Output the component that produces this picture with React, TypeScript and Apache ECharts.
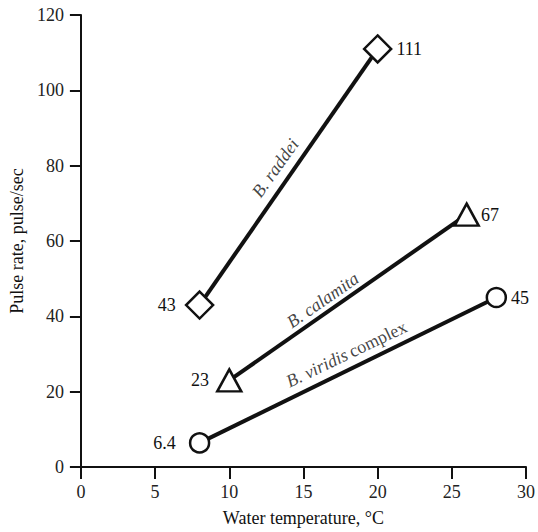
import React, { useEffect, useRef } from "react";
import * as echarts from "echarts";

const xTicks = [0, 5, 10, 15, 20, 25, 30];
const yTicks = [0, 20, 40, 60, 80, 100, 120];

const raddeiTemp = [8, 20];
const raddeiRate = [43, 111];
const calamitaTemp = [10, 26];
const calamitaRate = [23, 67];
const viridisTemp = [8, 28];
const viridisRate = [6.4, 45];
const pointLabels = {
  raddei: ["43", "111"],
  calamita: ["23", "67"],
  viridis: ["6.4", "45"],
};

// species name anchors (data coordinates) and rotation along each line
const speciesNames = ["B. raddei", "B. calamita", "B. viridis complex"];
const nameX = [13.1, 16.3, 17.9];
const nameY = [79.4, 44.3, 30.0];
const nameRotate = [54.4, 34.7, 25.6];

const FONT = "'Liberation Serif', 'Times New Roman', serif";
const INK = "#111";
const FS = 18;

export default function App() {
  const ref = useRef<HTMLDivElement>(null);
  useEffect(() => {
    if (!ref.current) return;
    const chart = echarts.init(ref.current, null, { renderer: "svg" });

    const mkLine = (
      name: string,
      xs: number[],
      ys: number[],
      labels: string[],
      symbol: string,
      size: any,
      dists: number[]
    ) => ({
      type: "line",
      name,
      silent: true,
      data: xs.map((x, i) => ({
        value: [x, ys[i]],
        label: {
          show: true,
          formatter: labels[i],
          position: i === 0 ? "left" : "right",
          distance: dists[i],
          fontFamily: FONT,
          fontSize: FS,
          color: INK,
        },
      })),
      symbol,
      symbolSize: size,
      showAllSymbol: true,
      lineStyle: { color: INK, width: 4 },
      itemStyle: { color: "#fff", borderColor: INK, borderWidth: 2.5 },
      z: 3,
    });

    chart.setOption({
      animation: false,
      backgroundColor: "#fff",
      grid: { left: 76, right: 12, top: 15, bottom: 65 },
      xAxis: {
        type: "value",
        min: xTicks[0],
        max: xTicks[xTicks.length - 1],
        interval: 5,
        name: "Water temperature, °C",
        nameLocation: "middle",
        nameGap: 42,
        nameTextStyle: { fontFamily: FONT, fontSize: FS, color: INK },
        axisLine: { show: true, lineStyle: { color: INK, width: 2 } },
        axisTick: { show: true, length: 12, lineStyle: { color: INK, width: 2 } },
        axisLabel: { fontFamily: FONT, fontSize: FS, color: "#222", margin: 16 },
        splitLine: { show: false },
      },
      yAxis: {
        type: "value",
        min: yTicks[0],
        max: yTicks[yTicks.length - 1],
        interval: 20,
        name: "Pulse rate, pulse/sec",
        nameLocation: "middle",
        nameGap: 45,
        nameTextStyle: { fontFamily: FONT, fontSize: FS, color: INK },
        axisLine: { show: true, lineStyle: { color: INK, width: 2 } },
        axisTick: { show: true, length: 11, lineStyle: { color: INK, width: 2 } },
        axisLabel: { fontFamily: FONT, fontSize: FS, color: "#222", margin: 17 },
        splitLine: { show: false },
      },
      series: [
        mkLine("B. raddei", raddeiTemp, raddeiRate, pointLabels.raddei, "diamond", 27, [9, 4]),
        mkLine("B. calamita", calamitaTemp, calamitaRate, pointLabels.calamita, "triangle", [24, 22], [7, 1]),
        mkLine("B. viridis complex", viridisTemp, viridisRate, pointLabels.viridis, "circle", 19, [13, 4]),
        {
          type: "scatter",
          silent: true,
          symbolSize: 0,
          z: 4,
          data: speciesNames.map((n, i) => ({
            value: [nameX[i], nameY[i]],
            label: {
              show: true,
              position: "inside",
              rotate: nameRotate[i],
              formatter:
                n === "B. viridis complex" ? "{i|B. viridis} {n|complex}" : "{i|" + n + "}",
              rich: {
                i: { fontFamily: FONT, fontSize: FS, fontStyle: "italic", color: INK },
                n: { fontFamily: FONT, fontSize: FS, color: INK },
              },
            },
          })),
        },
      ],
    });
    return () => chart.dispose();
  }, []);
  return (
    <div
      ref={ref}
      style={{ position: "absolute", left: 0, top: 0, width: 538, height: 532 }}
    />
  );
}
